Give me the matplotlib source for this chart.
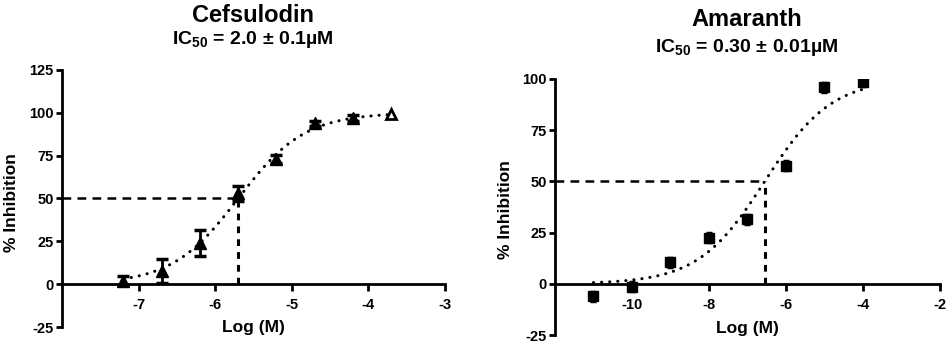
import matplotlib
matplotlib.use('Agg')
import matplotlib.pyplot as plt
import numpy as np

plt.rcParams['font.family'] = ['Liberation Sans', 'DejaVu Sans']
plt.rcParams['font.weight'] = 'bold'
plt.rcParams['axes.unicode_minus'] = False
plt.rcParams['mathtext.fontset'] = 'custom'
plt.rcParams['mathtext.rm'] = 'Liberation Sans:bold'
plt.rcParams['mathtext.bf'] = 'Liberation Sans:bold'
plt.rcParams['mathtext.it'] = 'Liberation Sans:bold'

# Cefsulodin data (log M, % inhibition, SEM)
cef_x = [-7.2, -6.7, -6.2, -5.7, -5.2, -4.7, -4.2]
cef_y = [2, 7.5, 24, 53, 73, 94, 97]
cef_err = [2.5, 7, 7.5, 4.3, 2.5, 1.5, 1.5]
cef_open_x = [-3.7]
cef_open_y = [99.5]
cef_logic50 = -5.7
cef_hill = 1.0
cef_range = (-7.2, -3.7)

# Amaranth data
ama_x = [-11, -10, -9, -8, -7, -6, -5, -4]
ama_y = [-6, -1.5, 10.5, 22.5, 31.5, 57.5, 95.8, 98.7]
ama_err = [2.2, 2.2, 2.2, 2.2, 2.2, 2.2, 2.2, 2.2]
ama_logic50 = -6.55
ama_hill = 0.5
ama_range = (-11, -4)


def sigmoid(x, logic50, hill):
    return 100 / (1 + 10 ** ((logic50 - x) * hill))


fig = plt.figure(figsize=(9.48, 3.43), dpi=100)
ax1 = fig.add_axes([0.0654, 0.0466, 0.404, 0.7494])
ax2 = fig.add_axes([0.5854, 0.0233, 0.4061, 0.7467])


def style(ax, xlim, ylim, xticks, yticks):
    ax.set_xlim(*xlim)
    ax.set_ylim(*ylim)
    ax.spines['top'].set_visible(False)
    ax.spines['right'].set_visible(False)
    ax.spines['bottom'].set_position(('data', 0))
    ax.spines['left'].set_linewidth(2)
    ax.spines['bottom'].set_linewidth(2)
    ax.set_xticks(xticks)
    ax.set_yticks(yticks)
    ax.set_xticklabels([str(t) for t in xticks])
    ax.set_yticklabels([str(t) for t in yticks])
    ax.tick_params(axis='both', width=2, length=4, labelsize=10.5, pad=2)
    ax.tick_params(axis='x', length=5, pad=5)
    for lab in ax.get_xticklabels() + ax.get_yticklabels():
        lab.set_fontweight('bold')
    ax.set_xlabel('Log (M)', fontsize=12.5, fontweight='bold')
    ax.set_ylabel('% Inhibition', fontsize=12.5, fontweight='bold')


style(ax1, (-8, -3), (-25, 125), [-7, -6, -5, -4, -3], [-25, 0, 25, 50, 75, 100, 125])
style(ax2, (-12, -2), (-25, 100), [-10, -8, -6, -4, -2], [-25, 0, 25, 50, 75, 100])
ax1.xaxis.set_label_coords(0.5, 0.028)
ax1.yaxis.set_label_coords(-0.112, 0.486)
ax2.xaxis.set_label_coords(0.5, 0.055)
ax2.yaxis.set_label_coords(-0.11, 0.488)

dot = (0, (0.05, 2.6))

# Cefsulodin
xs = np.linspace(cef_range[0], cef_range[1], 200)
ax1.plot(xs, sigmoid(xs, cef_logic50, cef_hill), color='black', lw=2.2,
         linestyle=dot, dash_capstyle='round', zorder=2)
ax1.errorbar(cef_x, cef_y, yerr=cef_err, fmt='^', color='black', ms=8,
             elinewidth=2, capsize=4.5, capthick=2.5, zorder=3)
ax1.plot(cef_open_x, cef_open_y, '^', mfc='white', mec='black', mew=2, ms=7, zorder=3)
ax1.plot([-8, cef_logic50], [50, 50], color='black', lw=1.8, ls=(0, (3.5, 2.5)), zorder=1)
ax1.plot([cef_logic50, cef_logic50], [0, 50], color='black', lw=2.2, ls=(0, (2.2, 2)), zorder=1)

# Amaranth
xs = np.linspace(ama_range[0], ama_range[1], 200)
ax2.plot(xs, sigmoid(xs, ama_logic50, ama_hill), color='black', lw=2.2,
         linestyle=dot, dash_capstyle='round', zorder=2)
ax2.errorbar(ama_x, ama_y, yerr=ama_err, fmt='s', color='black', ms=7,
             elinewidth=2, capsize=2.5, capthick=2.5, zorder=3)
ax2.plot([-12, ama_logic50], [50, 50], color='black', lw=1.8, ls=(0, (3.5, 2.5)), zorder=1)
ax2.plot([ama_logic50, ama_logic50], [0, 50], color='black', lw=2.2, ls=(0, (2.2, 2)), zorder=1)

# Titles
fig.text(253 / 948, 1 - 15 / 343, 'Cefsulodin', ha='center', va='center',
         fontsize=17, fontweight='bold')
fig.text(253 / 948, 1 - 40 / 343, 'IC$_{50}$ = 2.0 \u00b1 0.1\u00b5M', ha='center', va='center',
         fontsize=14, fontweight='bold')
fig.text(747 / 948, 1 - 20 / 343, 'Amaranth', ha='center', va='center',
         fontsize=17, fontweight='bold')
fig.text(747 / 948, 1 - 47 / 343, 'IC$_{50}$ = 0.30 \u00b1 0.01\u00b5M', ha='center', va='center',
         fontsize=14, fontweight='bold')

fig.savefig('out.png', dpi=100)
